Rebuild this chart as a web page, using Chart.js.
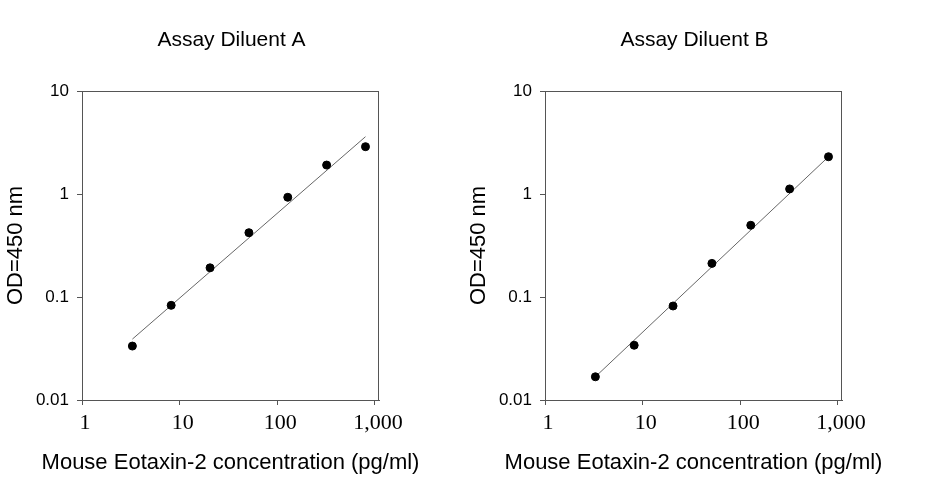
<!DOCTYPE html>
<html><head><meta charset="utf-8">
<script src="https://cdn.jsdelivr.net/npm/chart.js@4.4.1/dist/chart.umd.min.js"></script>
<style>
html,body{margin:0;padding:0;background:#fff;overflow:hidden}
#wrap{display:flex;width:926px;height:480px}
.cell{width:463px;height:480px;position:relative}
canvas{display:block}
</style></head><body>
<div id="wrap">
<div class="cell"><canvas id="cA" width="463" height="480"></canvas></div>
<div class="cell"><canvas id="cB" width="463" height="480"></canvas></div>
</div>
<script>
// ---- data ----
const concentrations = [3.28, 8.19, 20.48, 51.2, 128, 320, 800];
const odDiluentA = [0.0334, 0.083, 0.192, 0.421, 0.929, 1.91, 2.88];
const odDiluentB = [0.0168, 0.034, 0.0818, 0.212, 0.497, 1.12, 2.30];
const fitX = [3.28, 800];
const fitA = [0.039, 3.6];
const fitB = [0.0168, 2.3];
const xTickValues = [1, 10, 100, 1000];
const xTickLabels = ['1', '10', '100', '1,000'];
const yTickValues = [0.01, 0.1, 1, 10];
const yTickLabels = ['0.01', '0.1', '1', '10'];
const titles = ['Assay Diluent A', 'Assay Diluent B'];
const xTitle = 'Mouse Eotaxin-2 concentration (pg/ml)';
const yTitle = 'OD=450 nm';

const SANS = '"Liberation Sans", Arial, sans-serif';
const SERIF = '"Liberation Serif", "Times New Roman", serif';
const AXIS = '#555';

const framePlugin = {
  id: 'frame',
  afterDatasetsDraw(chart) {
    const {ctx, chartArea: a} = chart;
    ctx.save();
    ctx.strokeStyle = AXIS;
    ctx.lineWidth = 1;
    ctx.beginPath();
    ctx.moveTo(a.left, a.top + 0.5);
    ctx.lineTo(a.right, a.top + 0.5);
    ctx.moveTo(a.right - 0.5, a.top);
    ctx.lineTo(a.right - 0.5, a.bottom);
    ctx.stroke();
    ctx.restore();
  },
  afterDraw(chart) {
    // x-axis title, wider than the plot area, so drawn without width clamp
    const {ctx, chartArea: a} = chart;
    ctx.save();
    ctx.fillStyle = '#000';
    ctx.font = '22px ' + SANS;
    ctx.textAlign = 'center';
    ctx.textBaseline = 'middle';
    ctx.fillText(xTitle, (a.left + a.right) / 2, 463);
    ctx.restore();
  }
};

function makeChart(id, title, od, fit) {
  const pts = concentrations.map((c, i) => ({x: c, y: od[i]}));
  const line = fitX.map((c, i) => ({x: c, y: fit[i]}));
  return new Chart(document.getElementById(id), {
    data: {
      datasets: [
        {type: 'line', data: line, borderColor: '#666', borderWidth: 1,
         pointRadius: 0, fill: false, tension: 0, order: 2},
        {type: 'scatter', data: pts, backgroundColor: '#000', borderColor: '#000',
         pointRadius: 4, pointHoverRadius: 4, order: 1}
      ]
    },
    options: {
      responsive: false,
      animation: false,
      devicePixelRatio: 1,
      layout: {padding: 0},
      plugins: {
        legend: {display: false},
        tooltip: {enabled: false},
        title: {
          display: true, text: title, color: '#000',
          font: {family: SANS, size: 21, weight: 'normal'},
          padding: {top: 28, bottom: 37.8}
        }
      },
      scales: {
        x: {
          type: 'logarithmic', position: 'bottom', min: 1, max: 1100,
          afterBuildTicks: s => { s.ticks = xTickValues.map(v => ({value: v})); },
          afterFit: s => { s.height = 80; },
          grid: {drawOnChartArea: false, drawTicks: true, tickLength: 5, color: AXIS},
          border: {display: true, color: AXIS, width: 1},
          ticks: {
            color: '#000', padding: 5, maxRotation: 0, autoSkip: false, labelOffset: 3,
            font: {family: SERIF, size: 22},
            callback: (v) => { const i = xTickValues.indexOf(v); return i >= 0 ? xTickLabels[i] : ''; }
          },
          title: {display: false}
        },
        y: {
          type: 'logarithmic', position: 'left', min: 0.01, max: 10,
          afterBuildTicks: s => { s.ticks = yTickValues.map(v => ({value: v})); },
          afterFit: s => { s.width = 82; },
          grid: {drawOnChartArea: false, drawTicks: true, tickLength: 5, color: AXIS},
          border: {display: true, color: AXIS, width: 1},
          ticks: {
            color: '#000', padding: 8, autoSkip: false,
            font: {family: SANS, size: 17},
            callback: (v) => { const i = yTickValues.indexOf(v); return i >= 0 ? yTickLabels[i] : ''; }
          },
          title: {display: true, text: yTitle, color: '#000',
                  font: {family: SANS, size: 22}, padding: {top: 3, bottom: 0}}
        },
        yRight: {
          type: 'logarithmic', position: 'right', min: 0.01, max: 10,
          afterFit: s => { s.width = 84; },
          grid: {display: false, drawTicks: false},
          border: {display: false},
          ticks: {display: false}
        }
      }
    },
    plugins: [framePlugin]
  });
}

makeChart('cA', titles[0], odDiluentA, fitA);
makeChart('cB', titles[1], odDiluentB, fitB);
</script>
</body></html>
